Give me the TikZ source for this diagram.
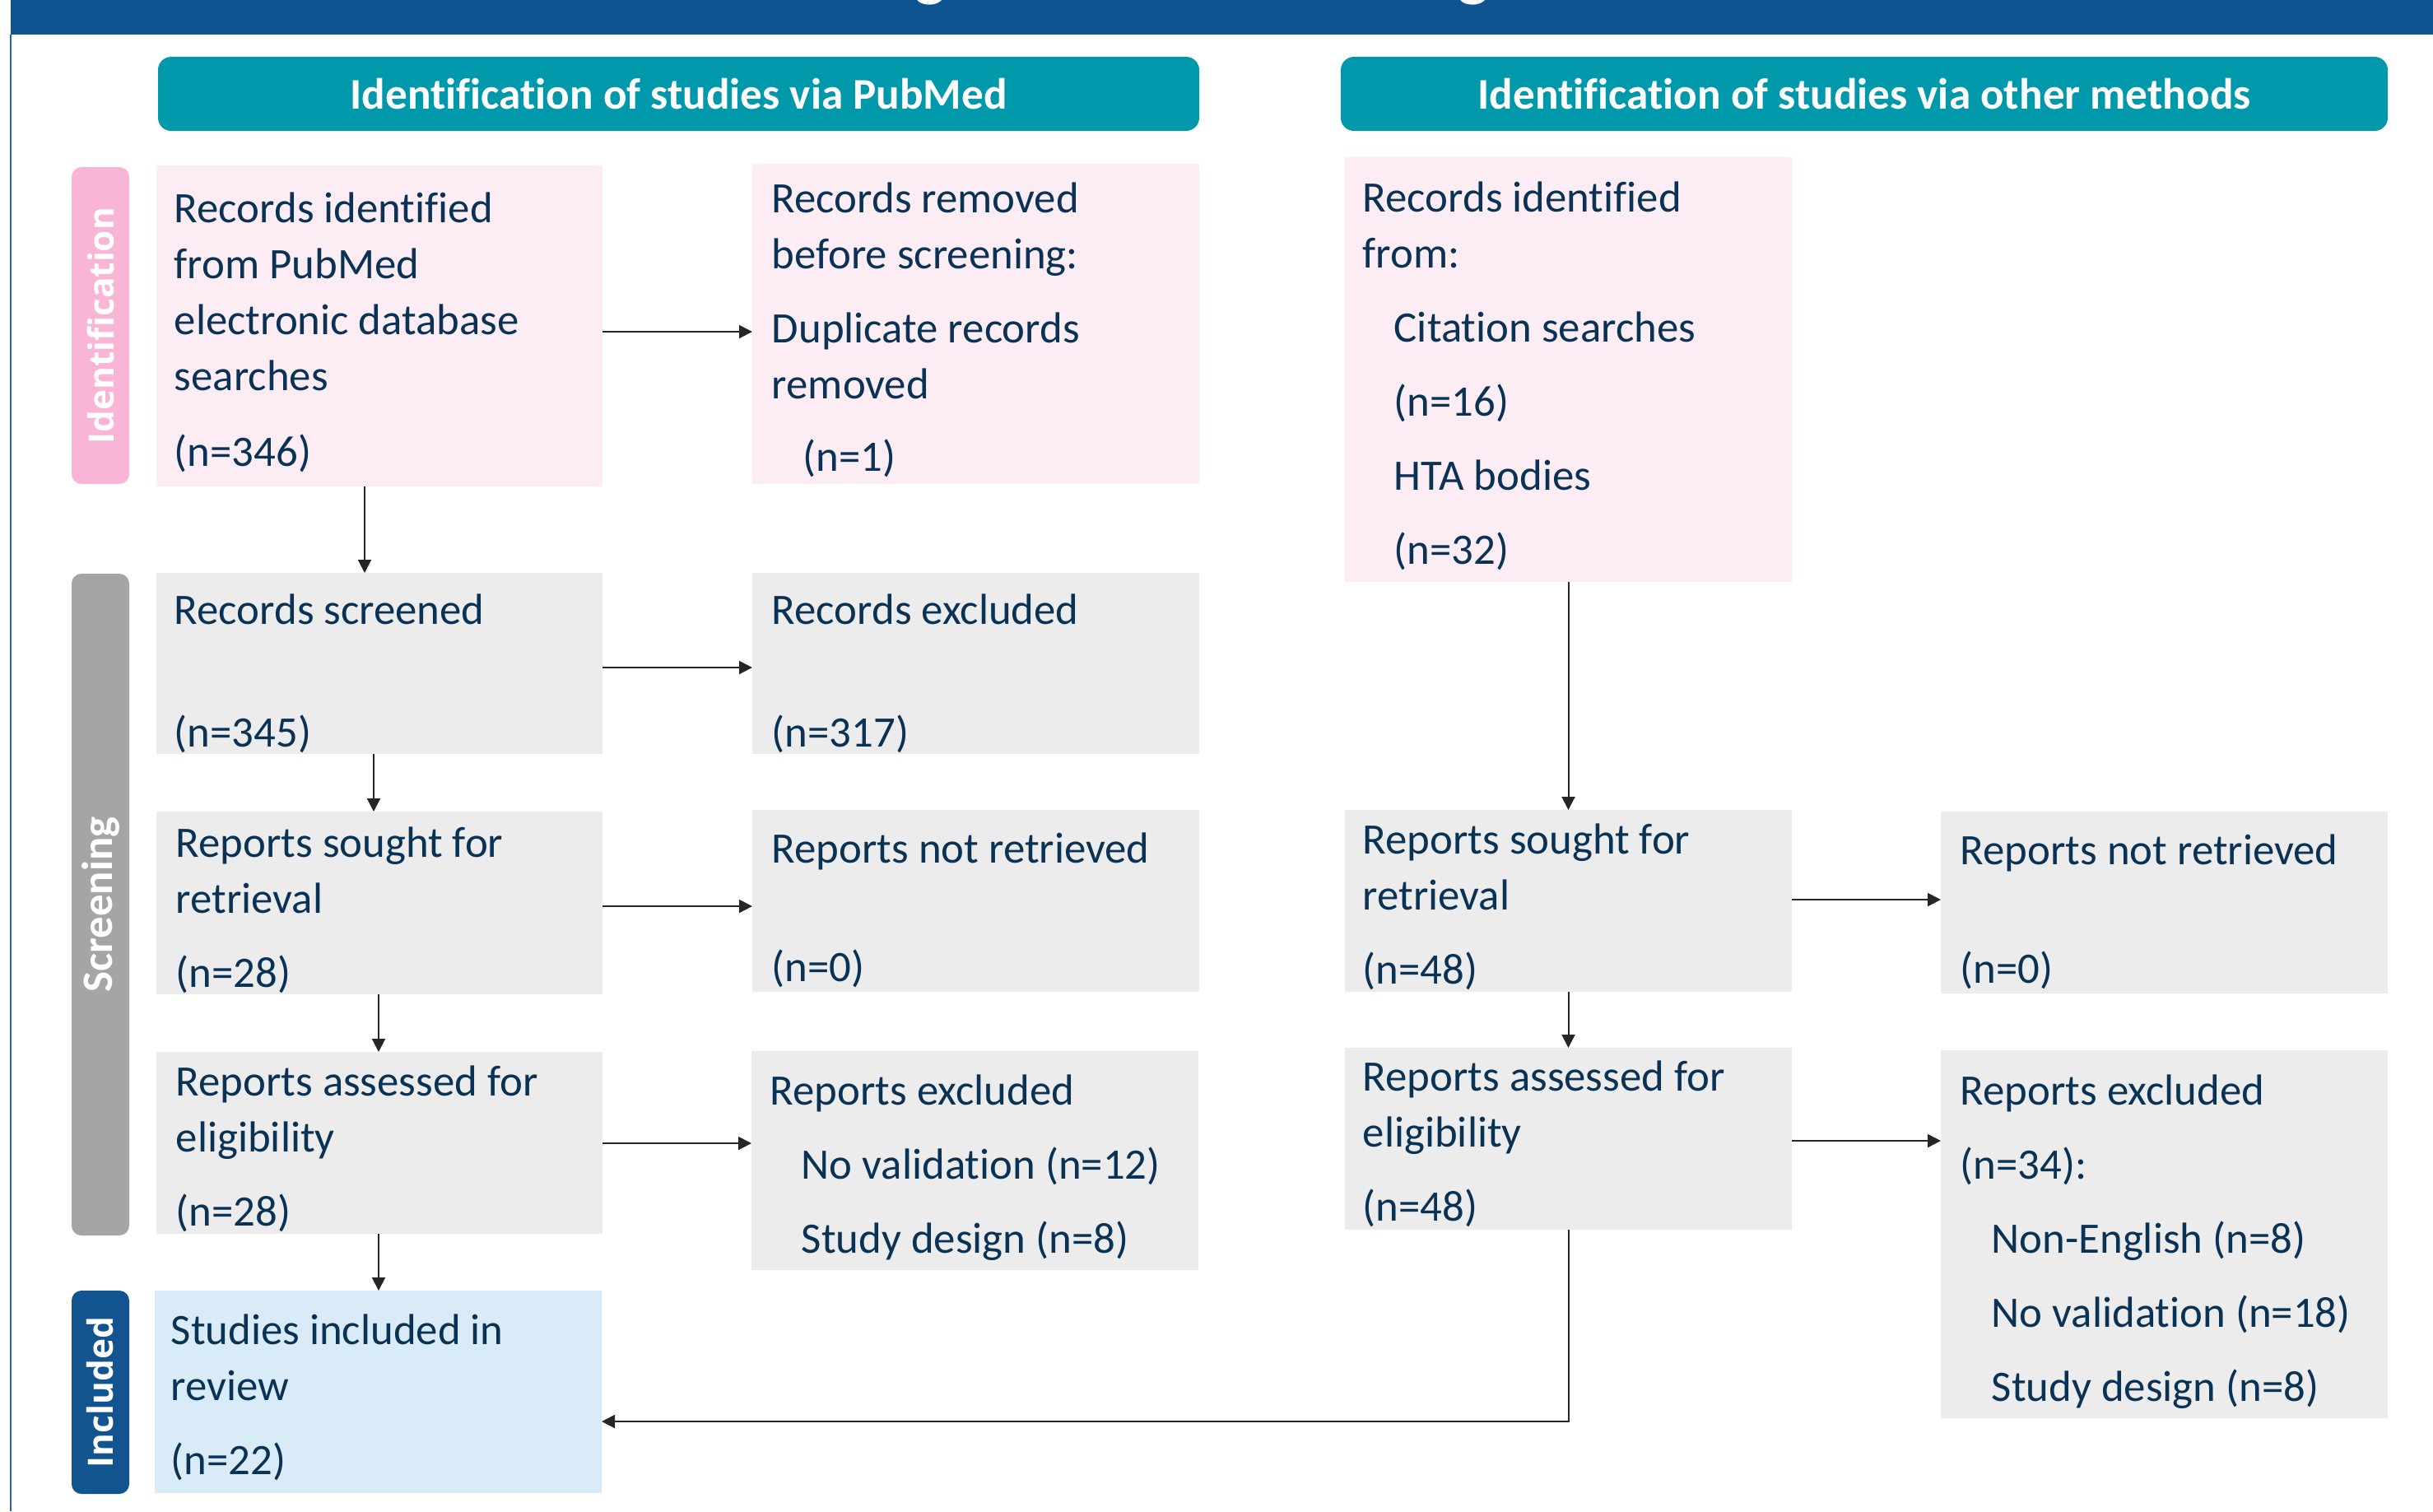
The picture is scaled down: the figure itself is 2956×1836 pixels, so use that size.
\documentclass[tikz,border=0pt]{standalone}
\usepackage{fontspec}
\setmainfont{Carlito}[Ligatures=NoCommon]
\newfontfamily\labfont{Open Sans}[Ligatures=NoCommon]
\usetikzlibrary{arrows.meta,fit}
\definecolor{bandblue}{HTML}{0E5490}
\definecolor{hdrteal}{HTML}{0098AB}
\definecolor{pinklab}{HTML}{F8B5D6}
\definecolor{pinkbg}{HTML}{FCECF3}
\definecolor{graylab}{HTML}{A5A5A5}
\definecolor{graybg}{HTML}{ECECEC}
\definecolor{inclab}{HTML}{115490}
\definecolor{bluebg}{HTML}{DAEBF8}
\definecolor{navy}{HTML}{0A3255}
\definecolor{leftline}{HTML}{2A66A3}
\begin{document}
\begin{tikzpicture}[x=0.25pt,y=-0.25pt,
  box/.style={inner sep=0pt, outer sep=0pt, draw=none},
  pinkbox/.style={box, fill=pinkbg},
  graybox/.style={box, fill=graybg},
  bluebox/.style={box, fill=bluebg},
  labbox/.style={box, rounded corners=3pt},
  hdrbox/.style={box, rounded corners=4pt, fill=hdrteal},
  txt/.style={anchor=base west, inner sep=0pt, yshift=-1pt, text=navy, font=\fontsize{13.2}{17}\selectfont},
  hdrtxt/.style={inner sep=0pt, text=white, font=\fontsize{13.3}{16}\selectfont\bfseries},
  labtxt/.style={inner sep=0pt, text=white, rotate=90, font=\labfont\fontsize{10.6}{13}\selectfont\bfseries},
  scrtxt/.style={inner sep=0pt, text=white, rotate=90, font=\fontsize{13.2}{16}\selectfont\bfseries},
  arr/.style={-{Triangle[length=4pt,width=4pt]}, line width=0.5pt, draw=black!85}
]
\clip (0,0) rectangle (2956,1836);
\fill[white] (0,0) rectangle (2956,1836);

% title band
\fill[bandblue] (13,0) rectangle (2956,42);
\node[anchor=base, inner sep=0pt, text=white, font=\fontsize{20}{24}\selectfont\bfseries] (tg1) at (1130,-8) {g};
\node[anchor=base, inner sep=0pt, text=white, font=\fontsize{20}{24}\selectfont\bfseries] (tg2) at (1790,-8) {g};
\draw[leftline, line width=0.4pt] (13,42) -- (13,1836);

% headers
\node[hdrbox, fit={(192,69) (1457,159)}] (H1) {};
\node[hdrtxt] (H1t) at (H1.center) {Identification of studies via PubMed};
\node[hdrbox, fit={(1629,69) (2901,159)}] (H2) {};
\node[hdrtxt] (H2t) at (H2.center) {Identification of studies via other methods};

% side labels
\node[labbox, fill=pinklab, fit={(87,203) (157,588)}] (Ilab) {};
\node[labtxt] (Ilabt) at (Ilab.center) {Identification};
\node[labbox, fill=graylab, fit={(87,697) (157,1501)}] (Slab) {};
\node[scrtxt] (Slabt) at (Slab.center) {Screening};
\node[labbox, fill=inclab, fit={(87,1568) (157,1815)}] (Nlab) {};
\node[labtxt] (Nlabt) at (Nlab.center) {Included};

% boxes
\node[pinkbox, fit={(190,201) (732,591)}] (A) {};
\node[pinkbox, fit={(914,199) (1457,588)}] (B) {};
\node[pinkbox, fit={(1634,191) (2177,707)}] (C) {};
\node[graybox, fit={(190,696) (732,916)}] (D) {};
\node[graybox, fit={(914,696) (1457,916)}] (E) {};
\node[graybox, fit={(190,986) (732,1208)}] (F) {};
\node[graybox, fit={(914,984) (1457,1205)}] (G) {};
\node[graybox, fit={(1634,984) (2177,1205)}] (H) {};
\node[graybox, fit={(2358,986) (2901,1207)}] (I) {};
\node[graybox, fit={(190,1278) (732,1499)}] (J) {};
\node[graybox, fit={(913,1277) (1456,1543)}] (K) {};
\node[graybox, fit={(1634,1273) (2177,1494)}] (L) {};
\node[graybox, fit={(2358,1276) (2901,1723)}] (M) {};
\node[bluebox, fit={(188,1568) (731,1814)}] (N) {};

% texts
\node[txt] (At) at (211,266) {\begin{tabular}[t]{@{}l@{}}Records identified\\from PubMed\\electronic database\\searches\\[6pt](n=346)\end{tabular}};
\node[txt] (Bt) at (937,254) {\begin{tabular}[t]{@{}l@{}}Records removed\\before screening:\\[5.5pt]Duplicate records\\removed\\[5pt]\hspace*{9.5pt}(n=1)\end{tabular}};
\node[txt] (Ct) at (1655,253) {\begin{tabular}[t]{@{}l@{}}Records identified\\from:\\[5.5pt]\hspace*{9.5pt}Citation searches\\[5.5pt]\hspace*{9.5pt}(n=16)\\[5.5pt]\hspace*{9.5pt}HTA bodies\\[5.5pt]\hspace*{9.5pt}(n=32)\end{tabular}};
\node[txt] (Dt) at (211,754) {\begin{tabular}[t]{@{}l@{}}Records screened\\[20.25pt](n=345)\end{tabular}};
\node[txt] (Et) at (937,754) {\begin{tabular}[t]{@{}l@{}}Records excluded\\[20.25pt](n=317)\end{tabular}};
\node[txt] (Ft) at (213,1037) {\begin{tabular}[t]{@{}l@{}}Reports sought for\\retrieval\\[5.5pt](n=28)\end{tabular}};
\node[txt] (Gt) at (937,1044) {\begin{tabular}[t]{@{}l@{}}Reports not retrieved\\[19pt](n=0)\end{tabular}};
\node[txt] (Ht) at (1655,1033) {\begin{tabular}[t]{@{}l@{}}Reports sought for\\retrieval\\[5.5pt](n=48)\end{tabular}};
\node[txt] (It) at (2381,1046) {\begin{tabular}[t]{@{}l@{}}Reports not retrieved\\[19pt](n=0)\end{tabular}};
\node[txt] (Jt) at (213,1327) {\begin{tabular}[t]{@{}l@{}}Reports assessed for\\eligibility\\[5.5pt](n=28)\end{tabular}};
\node[txt] (Kt) at (935,1338) {\begin{tabular}[t]{@{}l@{}}Reports excluded\\[5.5pt]\hspace*{9.5pt}No validation (n=12)\\[5.5pt]\hspace*{9.5pt}Study design (n=8)\end{tabular}};
\node[txt] (Lt) at (1655,1321) {\begin{tabular}[t]{@{}l@{}}Reports assessed for\\eligibility\\[5.5pt](n=48)\end{tabular}};
\node[txt] (Mt) at (2381,1338) {\begin{tabular}[t]{@{}l@{}}Reports excluded\\[5.5pt](n=34):\\[5.5pt]\hspace*{9.5pt}Non-English (n=8)\\[5.5pt]\hspace*{9.5pt}No validation (n=18)\\[5.5pt]\hspace*{9.5pt}Study design (n=8)\end{tabular}};
\node[txt] (Nt) at (207,1629) {\begin{tabular}[t]{@{}l@{}}Studies included in\\review\\[5.5pt](n=22)\end{tabular}};

% helper coordinates
\coordinate (hAB) at (0,403);
\coordinate (vAD) at (443,0);
\coordinate (hDE) at (0,811);
\coordinate (vDF) at (454,0);
\coordinate (hFG) at (0,1101);
\coordinate (vFJ) at (460,0);
\coordinate (hJK) at (0,1389);
\coordinate (vJN) at (460,0);
\coordinate (hHI) at (0,1093);
\coordinate (hLM) at (0,1386);
\coordinate (hLN) at (0,1727);

% connectors
\draw[arr] (A.east |- hAB) -- (B.west |- hAB);
\draw[arr] (A.south -| vAD) -- (D.north -| vAD);
\draw[arr] (D.east |- hDE) -- (E.west |- hDE);
\draw[arr] (D.south -| vDF) -- (F.north -| vDF);
\draw[arr] (F.east |- hFG) -- (G.west |- hFG);
\draw[arr] (F.south -| vFJ) -- (J.north -| vFJ);
\draw[arr] (J.east |- hJK) -- (K.west |- hJK);
\draw[arr] (J.south -| vJN) -- (N.north -| vJN);
\draw[arr] (C.south) -- (H.north);
\draw[arr] (H.east |- hHI) -- (I.west |- hHI);
\draw[arr] (H.south) -- (L.north);
\draw[arr] (L.east |- hLM) -- (M.west |- hLM);
\draw[arr] (L.south) -- (L.south |- hLN) -- (N.east |- hLN);
\end{tikzpicture}
\end{document}
